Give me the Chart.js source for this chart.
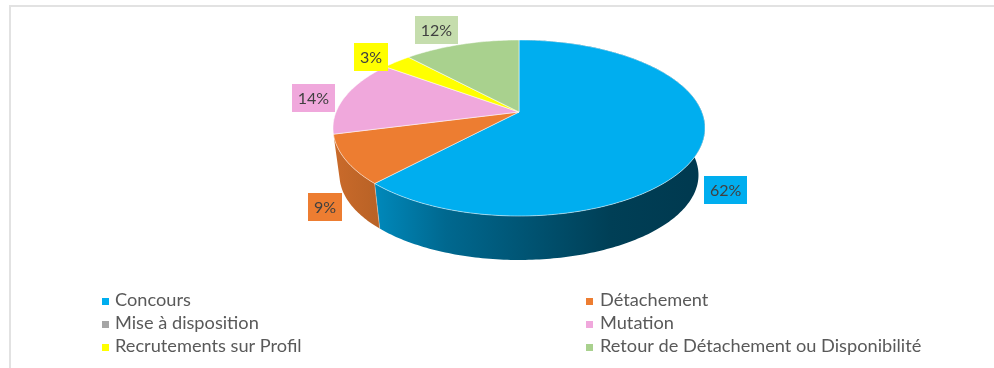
<!DOCTYPE html>
<html>
<head>
<meta charset="utf-8">
<script src="https://cdn.jsdelivr.net/npm/chart.js@4"></script>
<style>
html, body { margin: 0; padding: 0; background: #fff; overflow: hidden; }
#wrap { position: relative; width: 994px; height: 368px; }
#frame { position: absolute; left: 9px; top: 5px; right: 0; bottom: 0; border-top: 2px solid #e2e2e2; border-left: 2px solid #e2e2e2; }
canvas { position: absolute; left: 0; top: 0; filter: blur(.4px); }
</style>
</head>
<body>
<div id="wrap">
  <div id="frame"></div>
  <canvas id="chart1" width="994" height="368"></canvas>
</div>
<script>
var categories = ["Concours", "Détachement", "Mise à disposition", "Mutation", "Recrutements sur Profil", "Retour de Détachement ou Disponibilité"];
var values = [62, 9, 0, 14, 3, 12];
var sliceColors = ["#00AEEF", "#ED7D31", "#A5A5A5", "#F0A8DC", "#FFFF00", "#A9D18E"];
var boxColors = ["#00AEEF", "#ED7D31", "#A5A5A5", "#F0A8DC", "#FFFF00", "#C5DDAD"];

// perspective of the tilted disc
var tilt = 0.1818, stretchX = 1.988, stretchY = 0.925;
var rimScale = 0.965, rimDrop = 47.6;
// offset of the % boxes from the middle of each slice's rim
var boxOffsets = [[24.5, 44.4], [-20.5, 47.3], [0, 0], [-31.8, 1.4], [-25.5, -4.8], [-25, -14.3]];
var wallStops = [[0, .85], [.11, .78], [.30, .6], [.75, .36], [1, .33]];

function project(arc, angle, scale, drop) {
    var u = Math.cos(angle), v = Math.sin(angle), w = 1 - tilt * v;
    return {
        x: arc.x + scale * stretchX * arc.outerRadius * u / w,
        y: arc.y + drop + scale * stretchY * arc.outerRadius * v / w
    };
}

function shade(hex, f) {
    var n = parseInt(hex.slice(1), 16);
    return "rgb(" + Math.round((n >> 16) * f) + "," + Math.round(((n >> 8) & 255) * f) + "," + Math.round((n & 255) * f) + ")";
}

function rimPath(ctx, arc, a0, a1, scale, drop, first) {
    var steps = Math.max(2, Math.ceil(Math.abs(a1 - a0) * 60));
    for (var i = 0; i <= steps; i++) {
        var p = project(arc, a0 + (a1 - a0) * i / steps, scale, drop);
        if (i == 0 && first) ctx.moveTo(p.x, p.y); else ctx.lineTo(p.x, p.y);
    }
}

var pie3d = {
    id: "pie3d",
    beforeDatasetDraw: function(chart) {
        var ctx = chart.ctx;
        var arcs = chart.getDatasetMeta(0).data;
        ctx.save();
        // outer wall, back slices stay hidden
        arcs.forEach(function(arc, i) {
            var a0 = arc.startAngle, a1 = arc.endAngle;
            if (!values[i] || Math.sin((a0 + a1) / 2) < 0 && i > 0) return;
            var left = arc.x - stretchX * arc.outerRadius;
            var g = ctx.createLinearGradient(left, 0, left + 2 * stretchX * arc.outerRadius, 0);
            wallStops.forEach(function(s) { g.addColorStop(s[0], shade(sliceColors[i], s[1])); });
            ctx.beginPath();
            rimPath(ctx, arc, a0, a1, 1, 0, true);
            rimPath(ctx, arc, a1, a0, rimScale, rimDrop, false);
            ctx.closePath();
            ctx.fillStyle = g;
            ctx.fill();
        });
        // seam between blue and orange walls
        var seam = arcs[1];
        var p = project(seam, seam.startAngle, 1, 0), q = project(seam, seam.startAngle, rimScale, rimDrop);
        ctx.beginPath();
        ctx.moveTo(p.x, p.y);
        ctx.lineTo(q.x, q.y);
        ctx.strokeStyle = "rgba(255,255,255,.35)";
        ctx.lineWidth = 1;
        ctx.stroke();
        // top face
        arcs.forEach(function(arc, i) {
            if (!values[i]) return;
            ctx.beginPath();
            ctx.moveTo(arc.x, arc.y);
            rimPath(ctx, arc, arc.startAngle, arc.endAngle, 1, 0, false);
            ctx.closePath();
            ctx.fillStyle = sliceColors[i];
            ctx.fill();
            ctx.strokeStyle = "rgba(255,255,255,.5)";
            ctx.lineWidth = 1;
            ctx.stroke();
        });
        ctx.restore();
        return false;
    },
    afterDraw: function(chart) {
        var ctx = chart.ctx;
        var arcs = chart.getDatasetMeta(0).data;
        ctx.save();
        ctx.textBaseline = "middle";
        ctx.textAlign = "center";
        ctx.font = "16px Lato";
        // % boxes
        arcs.forEach(function(arc, i) {
            if (!values[i]) return;
            var p = project(arc, (arc.startAngle + arc.endAngle) / 2, 1, 0);
            var cx = p.x + boxOffsets[i][0], cy = p.y + boxOffsets[i][1];
            var text = values[i] + "%";
            var w = values[i] < 10 ? 34 : 43;
            ctx.fillStyle = boxColors[i];
            ctx.fillRect(Math.round(cx - w / 2), Math.round(cy - 14), w, 28);
            ctx.fillStyle = "#404040";
            ctx.fillText(text, cx, cy + 1);
        });
        // legend, two columns
        ctx.textAlign = "left";
        ctx.font = "18.2px Lato";
        categories.forEach(function(name, i) {
            var col = i % 2, row = Math.floor(i / 2);
            var x = col ? 586 : 102, y = 300 + row * 23;
            ctx.fillStyle = sliceColors[i];
            ctx.fillRect(x, y - 2, 7, 7);
            ctx.fillStyle = "#595959";
            ctx.fillText(name, col ? 600 : 115, y);
        });
        ctx.restore();
    }
};

var chart = new Chart(document.getElementById("chart1").getContext("2d"), {
    type: "pie",
    data: {
        labels: categories,
        datasets: [{ data: values, backgroundColor: sliceColors, borderWidth: 0 }]
    },
    options: {
        responsive: false,
        animation: false,
        layout: { padding: { left: 333, right: 289, top: 20, bottom: 164 } },
        plugins: { legend: { display: false }, tooltip: { enabled: false } }
    },
    plugins: [pie3d]
});
</script>
</body>
</html>
